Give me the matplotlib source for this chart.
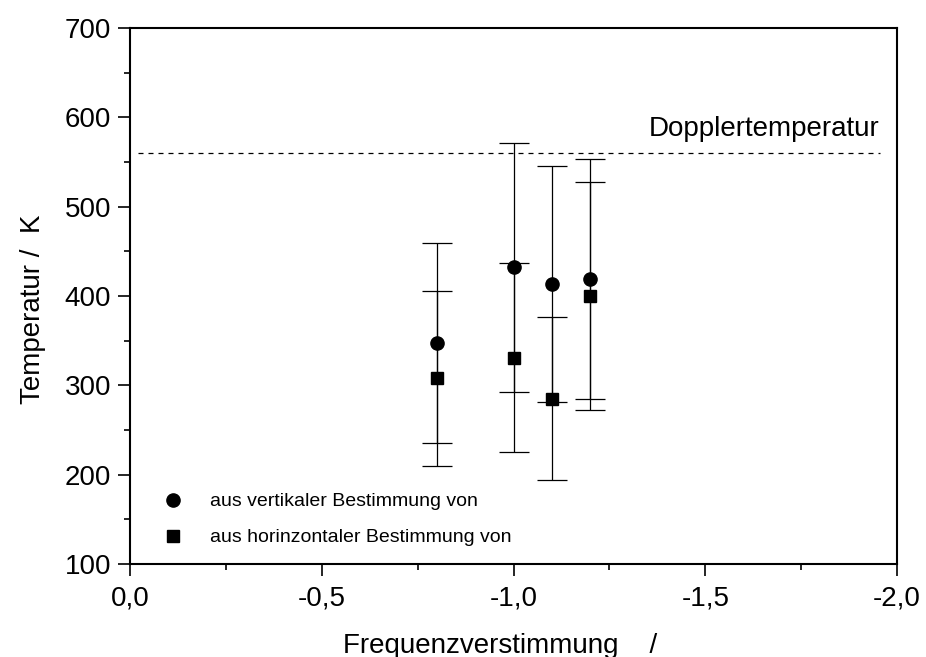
import numpy as np
import matplotlib.pyplot as plt
from matplotlib.ticker import MultipleLocator, FuncFormatter

plt.rcParams['font.family'] = ['Liberation Sans', 'DejaVu Sans']

# Frequenzverstimmung
x = [-0.8, -1.0, -1.1, -1.2]
# vertikale Bestimmung (Kreise)
t_vert = [347, 432, 413, 419]
err_vert = [112, 139, 132, 134]
# horizontale Bestimmung (Quadrate)
t_hor = [308, 331, 285, 400]
err_hor = [98, 106, 91, 128]
t_doppler = 560

fig = plt.figure(figsize=(9.26, 6.57), dpi=100)
ax = fig.add_axes([0.1404, 0.1416, 0.8283, 0.8158])

# Fehlerbalken
ax.errorbar(x, t_vert, yerr=err_vert, fmt='none', ecolor='black',
            elinewidth=0.9, capsize=11, capthick=0.9)
ax.errorbar(x, t_hor, yerr=err_hor, fmt='none', ecolor='black',
            elinewidth=0.9, capsize=11, capthick=0.9)
h1, = ax.plot(x, t_vert, 'o', color='black', markersize=9.5, linestyle='none')
h2, = ax.plot(x, t_hor, 's', color='black', markersize=8.5, linestyle='none')

# Dopplertemperatur
ax.plot([-0.02, -1.955], [t_doppler, t_doppler], color='black', lw=0.9,
        dashes=(4, 4))
ax.text(-1.955, t_doppler + 12, 'Dopplertemperatur', ha='right', va='bottom',
        fontsize=20)

ax.set_xlim(0, -2.0)
ax.set_ylim(100, 700)
ax.xaxis.set_major_locator(MultipleLocator(0.5))
ax.xaxis.set_minor_locator(MultipleLocator(0.25))
ax.yaxis.set_major_locator(MultipleLocator(100))
ax.yaxis.set_minor_locator(MultipleLocator(50))
ax.xaxis.set_major_formatter(FuncFormatter(lambda v, p: f'{v:.1f}'.replace('.', ',')))
ax.tick_params(which='major', direction='out', length=8.5, width=1.2,
               labelsize=20, top=False, right=False)
ax.tick_params(which='minor', direction='out', length=4.5, width=1.2,
               top=False, right=False)
ax.tick_params(axis='x', pad=7)
ax.tick_params(axis='y', pad=5)
for s in ax.spines.values():
    s.set_linewidth(1.5)

ax.set_xlabel('Frequenzverstimmung    /', fontsize=20)
ax.xaxis.set_label_coords(0.483, -0.128)
ax.set_ylabel('Temperatur /  K', fontsize=20)
ax.yaxis.set_label_coords(-0.11, 0.475)

ax.legend([h1, h2], ['aus vertikaler Bestimmung von',
                     'aus horinzontaler Bestimmung von'],
          loc='lower left', bbox_to_anchor=(0.02, 0.0), frameon=False,
          fontsize=14, handletextpad=1.4, labelspacing=0.95,
          handlelength=1.0)

fig.savefig('out.png', dpi=100)
